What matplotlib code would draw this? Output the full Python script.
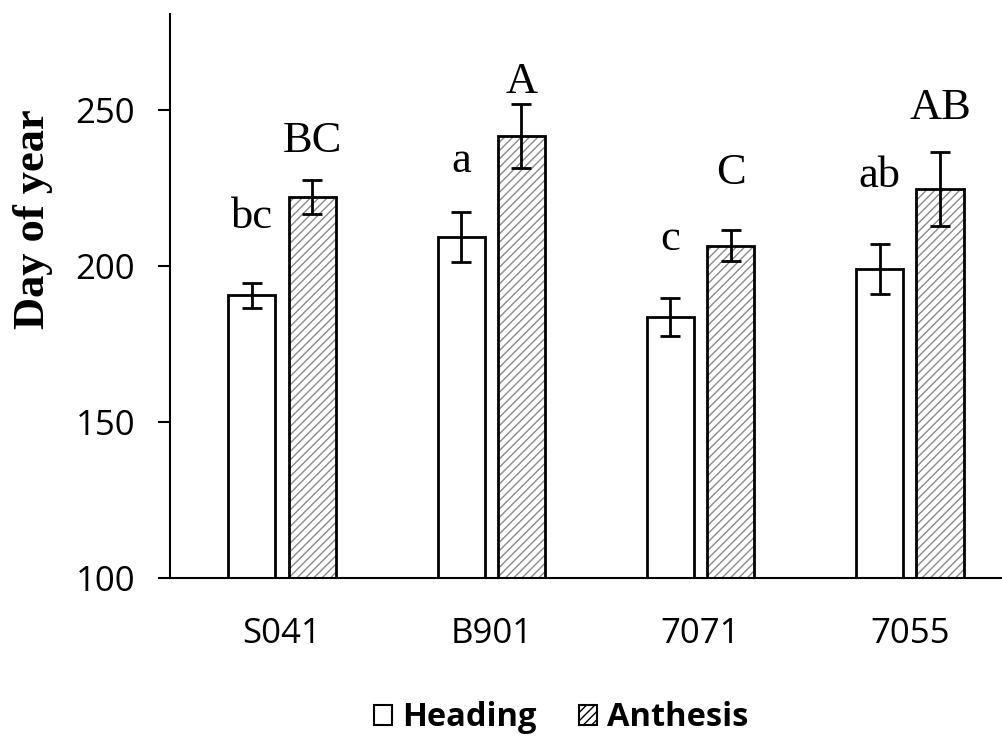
import matplotlib
matplotlib.use("Agg")
import matplotlib.pyplot as plt
import numpy as np
from matplotlib.patches import Patch

categories = ["S041", "B901", "7071", "7055"]
heading = [190.7, 209.4, 183.6, 199.0]
heading_err = [4.0, 8.0, 6.0, 8.0]
anthesis = [222.1, 241.8, 206.5, 224.7]
anthesis_err = [5.5, 10.3, 5.0, 12.0]
heading_letters = ["bc", "a", "c", "ab"]
anthesis_letters = ["BC", "A", "C", "AB"]
# baseline heights (data units) of the significance letters
heading_letter_y = [212.2, 230.1, 205.1, 225.3]
anthesis_letter_y = [236.5, 255.4, 226.3, 247.1]

plt.rcParams['hatch.linewidth'] = 1.0

fig = plt.figure(figsize=(10.03, 7.47), dpi=100)
ax = fig.add_axes([170/1003, 1-578/747, 1-170/1003, (578-14)/747])

x = np.arange(len(categories))
w = 0.225
off = 0.144

ax.bar(x - off, heading, w, color="white", edgecolor="black", linewidth=2, zorder=2)
ax.bar(x + off, anthesis, w, color="white", edgecolor="#8a8a8a", hatch="////", linewidth=0, zorder=2)
ax.bar(x + off, anthesis, w, color="none", edgecolor="black", linewidth=2, zorder=3)

ax.errorbar(x - off, heading, yerr=heading_err, fmt="none", ecolor="black", elinewidth=2, capsize=7, capthick=2, zorder=4)
ax.errorbar(x + off, anthesis, yerr=anthesis_err, fmt="none", ecolor="black", elinewidth=2, capsize=7, capthick=2, zorder=4)

serif = "Liberation Serif"
for i in range(len(categories)):
    ax.text(x[i] - off, heading_letter_y[i], heading_letters[i], ha="center", va="baseline",
            fontsize=32, family=serif)
    ax.text(x[i] + off, anthesis_letter_y[i], anthesis_letters[i], ha="center", va="baseline",
            fontsize=32, family=serif)

ax.set_ylim(100, 280.8)
ax.set_xlim(-0.535, 3.445)
ax.set_yticks([100, 150, 200, 250])
ax.set_xticks(x)
ax.set_xticklabels(categories)
ax.tick_params(axis="both", labelsize=25, labelfontfamily="Open Sans")
ax.tick_params(axis="y", length=9, width=1.5, pad=16, direction="out")
ax.tick_params(axis="x", length=0, pad=28)
for s in ["top", "right"]:
    ax.spines[s].set_visible(False)
for s in ["left", "bottom"]:
    ax.spines[s].set_linewidth(1.5)
ax.set_ylabel("Day of year", family=serif, fontweight="bold", fontsize=32)
ax.yaxis.label.set_va("center")
ax.yaxis.set_label_coords((33-170)/833, (578-219)/564)

handles = [Patch(facecolor="white", edgecolor="black", linewidth=1.5, label="Heading"),
           Patch(facecolor="white", edgecolor="black", hatch="////", linewidth=1.5, label="Anthesis")]
fig.legend(handles=handles, loc="center", bbox_to_anchor=(561/1003, 1-718/747), ncol=2, frameon=False,
           prop={"family": "Open Sans", "weight": "bold", "size": 23.5}, handlelength=0.55, handleheight=0.55,
           handletextpad=0.3, columnspacing=1.3)

fig.savefig("out.png", dpi=100)
